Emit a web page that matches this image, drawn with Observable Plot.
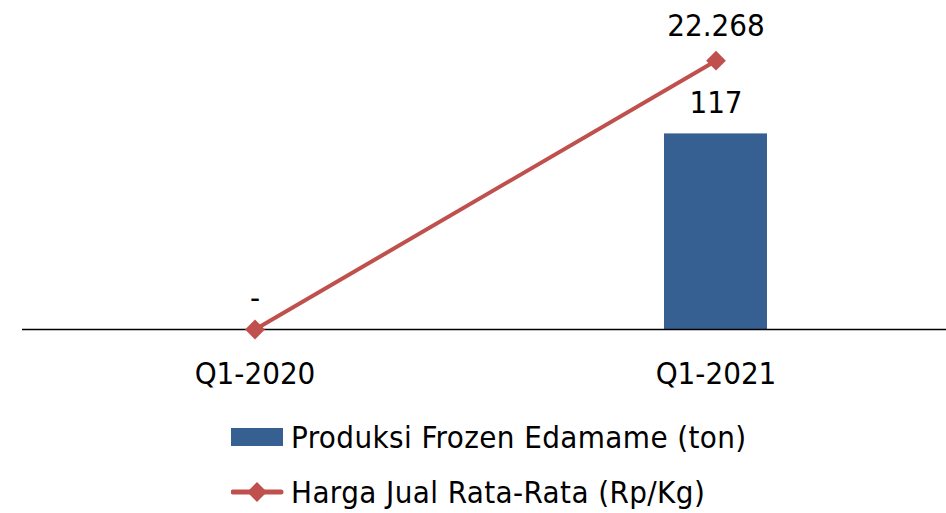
<!DOCTYPE html>
<html>
<head>
<meta charset="utf-8">
<script src="https://cdn.jsdelivr.net/npm/d3@7"></script>
<script src="https://cdn.jsdelivr.net/npm/@observablehq/plot@0.6"></script>
<style>
  html, body { margin: 0; padding: 0; background: #fff; }
  body { width: 946px; height: 513px; overflow: hidden; font-family: "DejaVu Sans Condensed", "DejaVu Sans", sans-serif; color: #000; }
  #legend { margin-top: 9px; padding-left: 231px; }
  .row { height: 55px; display: flex; align-items: center; font-size: 31px; letter-spacing: 0.4px; white-space: nowrap; }
</style>
</head>
<body>
<div id="chart"></div>
<div id="legend"></div>
<script>
const categories = ["Q1-2020", "Q1-2021"];
const produksi = [0, 117];          // ton
const harga = [0, 22268];           // Rp/Kg
const seriesNames = ["Produksi Frozen Edamame (ton)", "Harga Jual Rata-Rata (Rp/Kg)"];

const barColor = "#376092";
const lineColor = "#C0504D";
const fontFamily = '"DejaVu Sans Condensed", "DejaVu Sans", sans-serif';

const data = categories.map((c, i) => ({cat: c, produksi: produksi[i], harga: harga[i]}));

// secondary axis: map harga into the produksi scale units
const yMax = 196.8;
const hargaToY = d3.scaleLinear().domain([0, 27253]).range([0, yMax]);
const fmtId = v => v === 0 ? "-" : d3.format(",")(v).replace(/,/g, ".");

const plot = Plot.plot({
  width: 946,
  height: 400,
  marginTop: 0,
  marginBottom: 71,
  marginLeft: 22,
  marginRight: 0,
  style: {fontFamily, fontSize: "31px", color: "#000", background: "#fff", overflow: "visible"},
  x: {domain: categories, range: [23.5, 945.5], padding: 0, label: null},
  y: {domain: [0, yMax], axis: null},
  marks: [
    Plot.barY(data, {x: "cat", y: "produksi", fill: barColor, insetLeft: 179, insetRight: 179}),
    Plot.ruleY([0], {stroke: "#000", strokeWidth: 1.6}),
    Plot.lineY(data, {x: "cat", y: d => hargaToY(d.harga), stroke: lineColor, strokeWidth: 4}),
    Plot.dot(data, {x: "cat", y: d => hargaToY(d.harga), symbol: "square", r: 7.9, rotate: 45, fill: lineColor, stroke: "none"}),
    Plot.text(data, {x: "cat", y: "produksi", text: d => fmtId(d.produksi), dy: -31, fill: "#000", fontSize: 31}),
    Plot.text(data.filter(d => d.harga !== 0), {x: "cat", y: d => hargaToY(d.harga), text: d => fmtId(d.harga), dy: -35, fill: "#000", fontSize: 31}),
    Plot.axisX({tickSize: 0, tickPadding: 32, label: null, fontSize: 31, fill: "#000"})
  ]
});
document.getElementById("chart").appendChild(plot);

// legend
const legend = document.getElementById("legend");
seriesNames.forEach((name, i) => {
  const row = document.createElement("div");
  row.className = "row";
  const sw = document.createElementNS("http://www.w3.org/2000/svg", "svg");
  sw.setAttribute("width", 60);
  sw.setAttribute("height", 24);
  if (i === 0) {
    sw.innerHTML = `<rect x="0" y="3" width="52" height="18" fill="${barColor}"/>`;
  } else {
    sw.innerHTML = `<line x1="2" y1="12" x2="50" y2="12" stroke="${lineColor}" stroke-width="5" stroke-linecap="round"/>` +
      `<rect x="-7" y="-7" width="14" height="14" fill="${lineColor}" transform="translate(26,12) rotate(45)"/>`;
  }
  const t = document.createElement("span");
  t.textContent = name;
  row.appendChild(sw);
  row.appendChild(t);
  legend.appendChild(row);
});
</script>
</body>
</html>
